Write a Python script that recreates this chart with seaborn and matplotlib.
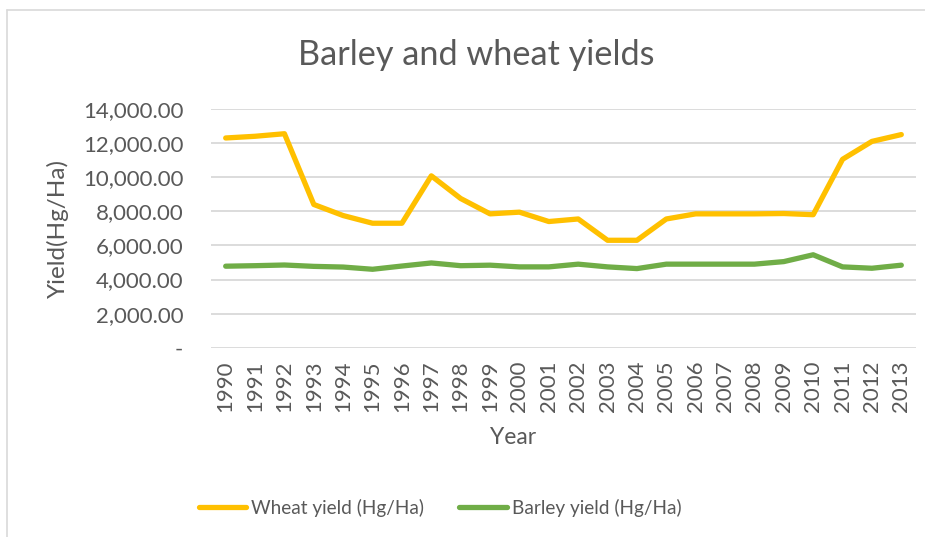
import numpy as np
import pandas as pd
import seaborn as sns
import matplotlib
matplotlib.use("Agg")
import matplotlib.pyplot as plt
from matplotlib.ticker import FuncFormatter
from matplotlib.lines import Line2D

years = list(range(1990, 2014))
wheat = [12300, 12400, 12550, 8400, 7750, 7300, 7300, 10080, 8750, 7850, 7950, 7400,
         7550, 6300, 6300, 7550, 7850, 7850, 7850, 7870, 7800, 11050, 12100, 12500]
barley = [4780, 4810, 4850, 4770, 4730, 4600, 4790, 4970, 4810, 4840, 4740, 4740,
          4900, 4740, 4640, 4900, 4900, 4900, 4900, 5050, 5450, 4740, 4660, 4840]
series_names = ["Wheat yield (Hg/Ha)", "Barley yield (Hg/Ha)"]
colors = ["#FFC000", "#70AD47"]
title = "Barley and wheat yields"
xlabel = "Year"
ylabel = "Yield(Hg/Ha)"

df = pd.DataFrame({
    "Year": years * 2,
    "Yield": wheat + barley,
    "Series": [series_names[0]] * len(years) + [series_names[1]] * len(years),
})

sns.set_theme(style="white")
plt.rcParams["font.family"] = ["Lato", "DejaVu Sans"]
txt = "#595959"

fig = plt.figure(figsize=(9.25, 5.37), dpi=100)
ax = fig.add_axes([211 / 925, 1 - 347.7 / 537, (916 - 211) / 925, (347.7 - 109) / 537])

sns.lineplot(data=df, x="Year", y="Yield", hue="Series", palette=colors,
             hue_order=series_names, linewidth=3.8, ax=ax, legend=False,
             solid_capstyle="round", zorder=3)

ax.set_xlim(years[0] - 0.5, years[-1] + 0.5)
ax.set_ylim(0, 14000)
ax.set_yticks(np.arange(0, 14001, 2000))
ax.yaxis.set_major_formatter(FuncFormatter(lambda v, p: "-" if v == 0 else f"{v:,.2f}"))
ax.set_xticks(years)
ax.set_xticklabels([str(y) for y in years], rotation=90)
ax.grid(axis="y", color="#d9d9d9", linewidth=1.3, zorder=0)
ax.grid(axis="x", visible=False)
for s in ax.spines.values():
    s.set_visible(False)
ax.tick_params(axis="both", length=0, colors=txt, labelsize=16)
ax.tick_params(axis="y", pad=20)
ax.tick_params(axis="x", pad=9)

ax.set_xlabel(xlabel, fontsize=16.5, color=txt, va="center")
ax.xaxis.set_label_coords((513 - 211) / 705, (347.7 - 438) / 238.7)
ax.set_ylabel(ylabel, fontsize=17.5, color=txt, va="center")
ax.yaxis.set_label_coords((58 - 211) / 705, 0.5)
fig.text(476 / 925, 1 - 55 / 537, title, fontsize=24.7, color=txt, ha="center", va="center")

handles = [Line2D([0], [0], color=c, lw=3.8, solid_capstyle="round") for c in colors]
fig.legend(handles, series_names, loc="center", bbox_to_anchor=(440 / 925, 1 - 508 / 537),
           ncol=2, frameon=False, fontsize=13.7, labelcolor=txt, handlelength=2.5,
           handletextpad=0.25, columnspacing=1.85)

# chart border (left and top visible)
fig.add_artist(Line2D([7 / 925, 7 / 925], [0, 1 - 10 / 537], transform=fig.transFigure,
                      color="#d9d9d9", lw=1.2))
fig.add_artist(Line2D([7 / 925, 1], [1 - 10 / 537, 1 - 10 / 537], transform=fig.transFigure,
                      color="#d9d9d9", lw=1.2))

fig.savefig("out.png", dpi=100, facecolor="white")
